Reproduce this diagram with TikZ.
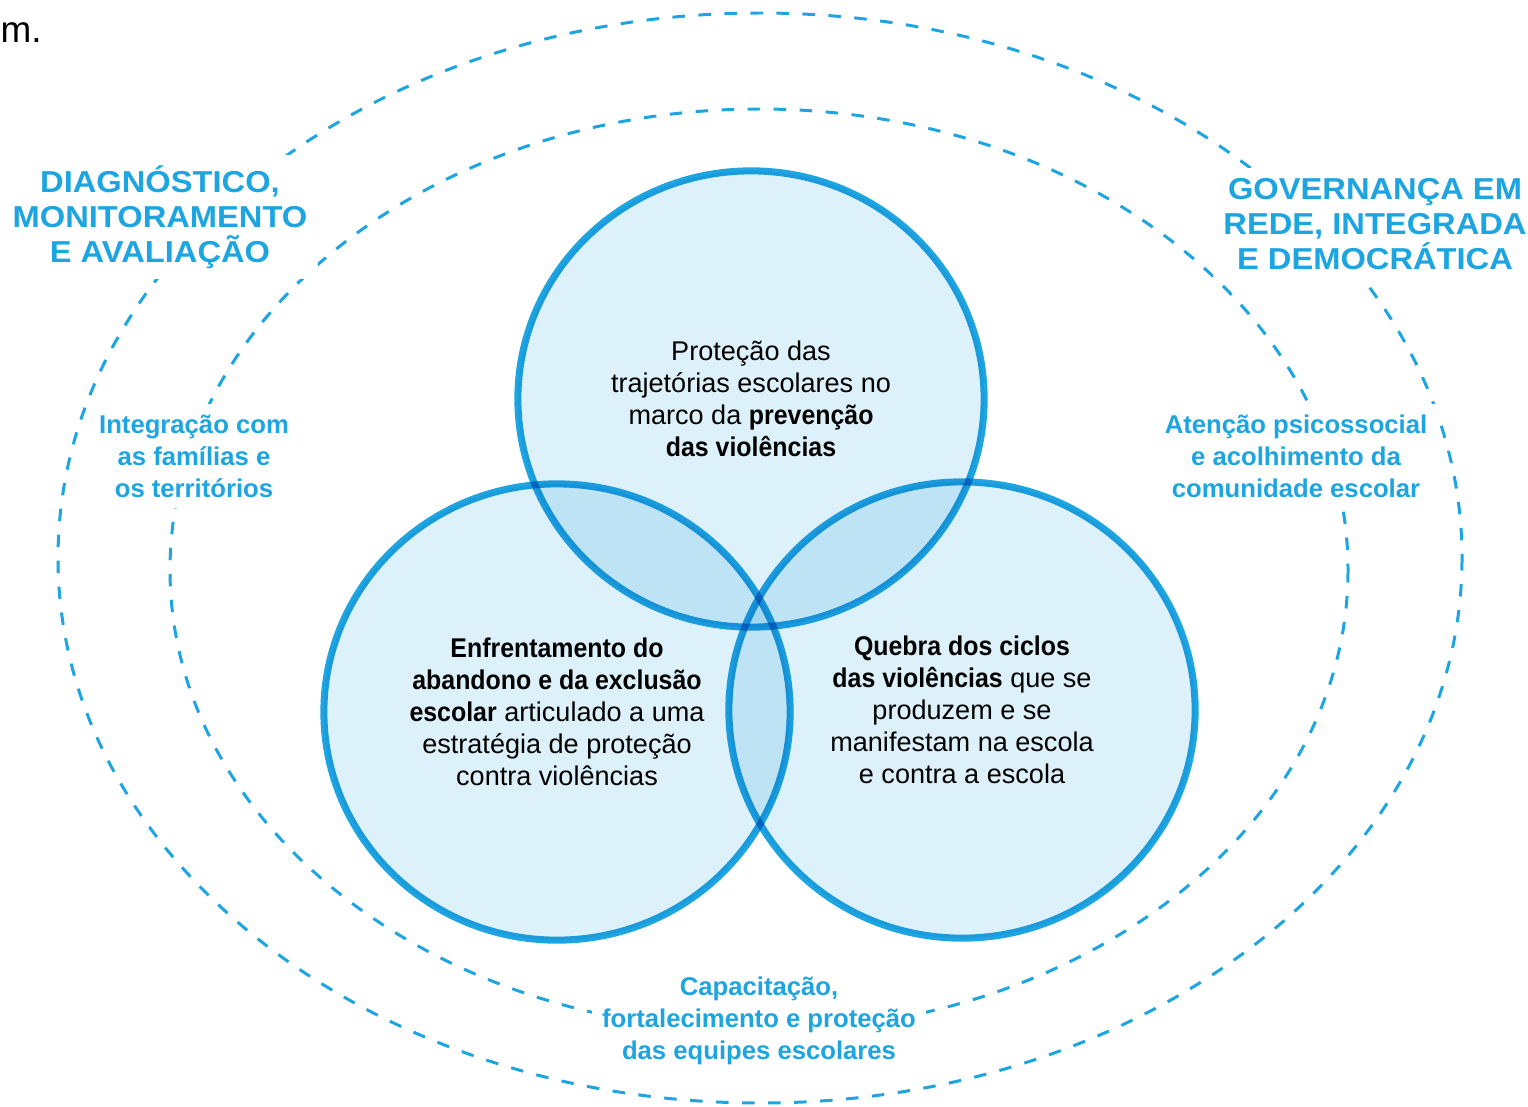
\documentclass[tikz,border=0pt]{standalone}
\usepackage{fontspec}
\setmainfont{Liberation Sans}
\newfontfamily\larga{Liberation Sans}[FakeStretch=1.08]
\newfontfamily\estreita{Liberation Sans}[FakeStretch=0.92]
\newcommand{\negrito}[1]{{\estreita\bfseries #1}}
\usetikzlibrary{shapes.geometric}
\definecolor{azul}{RGB}{29,165,225}
\definecolor{azulclaro}{RGB}{220,241,250}

\begin{document}
\begin{tikzpicture}[x=0.01cm,y=-0.01cm,
font=\fontsize{7.7}{9.1}\selectfont]
\tikzstyle{venn}=[ellipse,draw=azul,fill=azulclaro,line width=2pt,
minimum width=4.66cm,minimum height=4.56cm,inner sep=0pt,align=center,text=black]
\tikzstyle{anel}=[draw=azul,line width=0.85pt,dash pattern=on 3.55pt off 3.85pt]
\tikzstyle{eixo}=[fill=white,text=azul,align=center,inner sep=3pt,
font=\fontsize{7.3}{9.1}\selectfont\bfseries]
\tikzstyle{titulo}=[eixo,font=\larga\fontsize{8.6}{10}\selectfont\bfseries]

\useasboundingbox (0,0) rectangle (1528,1106);

% aneis tracejados
\draw[anel] (760,558) ellipse [x radius=702,y radius=545];	% externo
\draw[anel] (759,570) ellipse [x radius=589,y radius=461];	% interno

\begin{scope}[blend mode=multiply]
\node[venn] (protecao) at (751,399)
{Proteção das\\trajetórias escolares no\\marco da \negrito{prevenção}\\\negrito{das violências}};
\node[venn] (abandono) at (557,712)
{\negrito{Enfrentamento do}\\\negrito{abandono e da exclusão}\\\negrito{escolar} articulado a uma\\estratégia de proteção\\contra violências};
\node[venn] (ciclos) at (962,710)
{\negrito{Quebra dos ciclos}\\\negrito{das violências} que se\\produzem e se\\manifestam na escola\\e contra a escola};
\end{scope}

\node[titulo] (diagnostico) at (160,217) {DIAGNÓSTICO,\\MONITORAMENTO\\E AVALIAÇÃO};
\node[titulo] (governanca) at (1375,224) {GOVERNANÇA EM\\REDE, INTEGRADA\\E DEMOCRÁTICA};
\node[eixo] (familias) at (194,456) {Integração com\\as famílias e\\os territórios};
\node[eixo] (psicossocial) at (1296,456) {Atenção psicossocial\\e acolhimento da\\comunidade escolar};
\node[eixo] (equipes) at (759,1021) {Capacitação,\\fortalecimento e proteção\\das equipes escolares};

\node[anchor=west,inner sep=0pt,font=\fontsize{10.5}{12}\selectfont] (resto) at (0,33) {m.};
\end{tikzpicture}
\end{document}
